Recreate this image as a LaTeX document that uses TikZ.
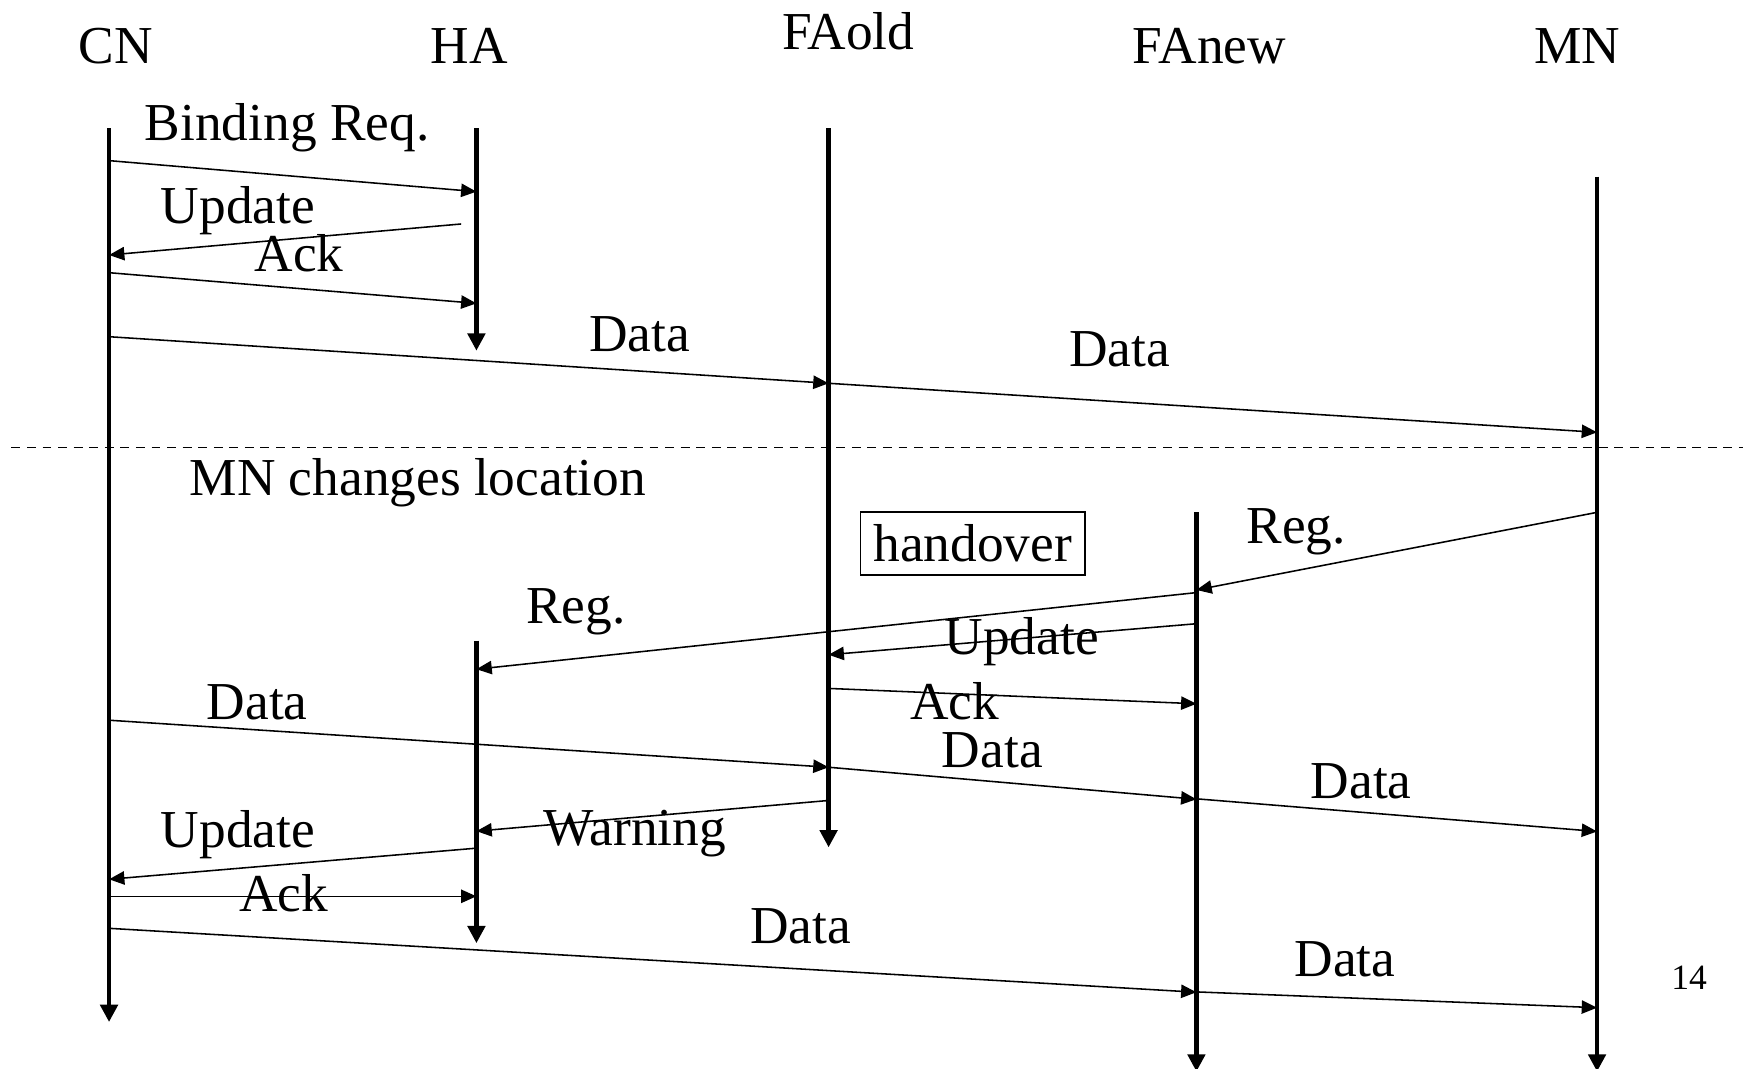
\documentclass[tikz,border=0pt]{standalone}
\usepackage{fontspec}
\setmainfont{Liberation Serif}
\usetikzlibrary{arrows.meta}
\tikzset{
  lifeline/.style={line width=4.1pt, -{Triangle[length=15.6pt,width=15.5pt]}},
  msg/.style={line width=1.4pt, -{Triangle[length=13.8pt,width=12pt]}},
  plainmsg/.style={line width=1.4pt},
  lbl/.style={anchor=base west, inner sep=0pt, font=\fontsize{48}{56}\selectfont},
  sep/.style={line width=1.3pt, dash pattern=on 8pt off 6pt},
  boxed/.style={draw, line width=1.4pt, inner sep=0pt, minimum width=202pt,
                minimum height=57pt, font=\fontsize{48}{56}\selectfont},
}
\begin{document}
\begin{tikzpicture}[x=1pt,y=-1pt]
\useasboundingbox (0,0) rectangle (1568,961);

% entity names
\node[lbl] (hCN) at (70.6,57)   {CN};
\node[lbl] (hHA) at (387.3,57)  {HA};
\node[lbl] (hFO) at (703.3,44.4) {FAold};
\node[lbl] (hFN) at (1019,57)   {FAnew};
\node[lbl] (hMN) at (1380,57)   {MN};

% lifelines
\coordinate (cnTop) at (98.1,115.5);   \coordinate (cnEnd) at (98.1,919.4);
\coordinate (haTop) at (428.6,115.5);  \coordinate (haEnd) at (428.6,315.5);
\coordinate (haTopB) at (428.6,576.4); \coordinate (haEndB) at (428.6,848.5);
\coordinate (foTop) at (745.4,115.5);  \coordinate (foEnd) at (745.4,762.3);
\coordinate (fnTop) at (1076.3,460.6); \coordinate (fnEnd) at (1076.3,964);
\coordinate (mnTop) at (1436.7,158.9); \coordinate (mnEnd) at (1436.7,964);
\draw[lifeline] (cnTop) -- (cnEnd);
\draw[lifeline] (haTop) -- (haEnd);
\draw[lifeline] (haTopB) -- (haEndB);
\draw[lifeline] (foTop) -- (foEnd);
\draw[lifeline] (fnTop) -- (fnEnd);
\draw[lifeline] (mnTop) -- (mnEnd);

% separator: location change
\coordinate (sepL) at (10.3,402.8);
\coordinate (sepR) at (1568,402.8);
\draw[sep] (sepL) -- (sepR);

% message end points
\coordinate (m1a) at (98.1,144.5);   \coordinate (m1b) at (428.6,172.4);
\coordinate (m2a) at (414.8,201.5);  \coordinate (m2b) at (98.1,229.4);
\coordinate (m3a) at (98.1,245.3);   \coordinate (m3b) at (428.6,272.9);
\coordinate (m4a) at (98.1,302.9);   \coordinate (m4b) at (745.4,344.8);
\coordinate (m5b) at (1436.7,388.9);
\coordinate (m6a) at (1436.7,460.9); \coordinate (m6b) at (1076.3,530.7);
\coordinate (m7a) at (1076.3,533.1); \coordinate (m7b) at (428.6,602);
\coordinate (m8a) at (1076.3,561.1); \coordinate (m8b) at (745.4,589);
\coordinate (m9a) at (745.4,619.3);  \coordinate (m9b) at (1076.3,633.1);
\coordinate (m10a) at (98.1,647.9);  \coordinate (m10b) at (745.4,690.2);
\coordinate (m11b) at (1076.3,719);
\coordinate (m12a) at (1076.3,718.6); \coordinate (m12b) at (1436.7,748);
\coordinate (m13a) at (745.4,720.1); \coordinate (m13b) at (428.6,747.7);
\coordinate (m14a) at (428.6,763);   \coordinate (m14b) at (98.1,791);
\coordinate (m15a) at (98.1,806.3);  \coordinate (m15b) at (428.6,806.3);
\coordinate (m16a) at (98.1,835.1);  \coordinate (m16b) at (1076.3,892.6);
\coordinate (m17a) at (1076.3,892.3); \coordinate (m17b) at (1436.7,906.5);

% messages
\draw[msg] (m1a) -- (m1b);
\draw[msg] (m2a) -- (m2b);
\draw[msg] (m3a) -- (m3b);
\draw[msg] (m4a) -- (m4b);
\draw[msg] (m4b) -- (m5b);
\draw[msg] (m6a) -- (m6b);
\draw[msg] (m7a) -- (m7b);
\draw[msg] (m8a) -- (m8b);
\draw[msg] (m9a) -- (m9b);
\draw[msg] (m10a) -- (m10b);
\draw[msg] (m10b) -- (m11b);
\draw[msg] (m12a) -- (m12b);
\draw[msg] (m13a) -- (m13b);
\draw[msg] (m14a) -- (m14b);
\draw[msg] (m15a) -- (m15b);
\draw[msg] (m16a) -- (m16b);
\draw[msg] (m17a) -- (m17b);

% message labels
\node[lbl] (l1)  at (130.1,126)   {Binding Req.};
\node[lbl] (l2)  at (144.6,200.9) {Update};
\node[lbl] (l3)  at (229,244.4)   {Ack};
\node[lbl] (l4)  at (530,316.4)   {Data};
\node[lbl] (l5)  at (961.5,329.9) {Data};
\node[lbl] (l0)  at (170.4,446.1) {MN changes location};
\node[boxed] (ho) at (875.1,489)  {handover};
\node[lbl] (l6)  at (1121.3,489.2) {Reg.};
\node[lbl] (l7)  at (473.3,561.1) {Reg.};
\node[lbl] (l8)  at (849.6,589)   {Update};
\node[lbl] (l10) at (185.9,647.3) {Data};
\node[lbl] (l9)  at (818.6,647.3) {Ack};
\node[lbl] (l11) at (847.2,690.2) {Data};
\node[lbl] (l12) at (1179.1,718.6) {Data};
\node[lbl] (l14) at (144.6,762.3) {Update};
\node[lbl] (l13) at (488.8,760.3) {Warning};
\node[lbl] (l15) at (215.2,819.8) {Ack};
\node[lbl] (l16) at (674.7,848.5) {Data};
\node[lbl] (l17) at (1164.5,878.2) {Data};

% page number
\node[anchor=base west, inner sep=0pt, font=\fontsize{32}{38}\selectfont] (pg) at (1503.3,889.9) {14};
\end{tikzpicture}
\end{document}
